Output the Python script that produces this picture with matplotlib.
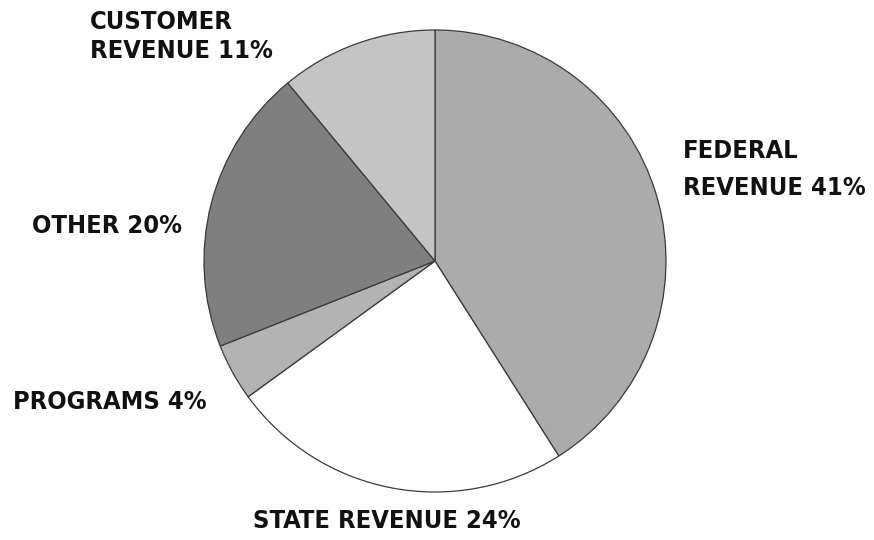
# === IMPORTS ===
import matplotlib
matplotlib.use("Agg")
import matplotlib.pyplot as plt

# === DATA ===
categories = ["FEDERAL REVENUE", "STATE REVENUE", "PROGRAMS", "OTHER", "CUSTOMER REVENUE"]
shares = [41, 24, 4, 20, 11]
slice_colors = ["#ababab", "#ffffff", "#b3b3b3", "#7f7f7f", "#c4c4c4"]

# label lines: text, left x, baseline y (pixels from top-left)
label_lines = [
    ("CUSTOMER", 90, 29),
    ("REVENUE 11%", 90, 58),
    ("FEDERAL", 683, 158),
    ("REVENUE 41%", 683, 195),
    ("OTHER 20%", 32, 233),
    ("PROGRAMS 4%", 13, 409),
    ("STATE REVENUE 24%", 253, 528),
]

# === FIGURE ===
W, H = 874, 540
fig = plt.figure(figsize=(W / 100, H / 100), dpi=100)
fig.patch.set_facecolor("white")

cx, cy, r = 435, 261, 231
ax = fig.add_axes([(cx - r) / W, (H - cy - r) / H, 2 * r / W, 2 * r / H])
ax.pie(shares, colors=slice_colors, startangle=90, counterclock=False,
       wedgeprops=dict(edgecolor="#3a3a3a", linewidth=0.9))
ax.set_xlim(-1.0, 1.0)
ax.set_ylim(-1.0, 1.0)
ax.set_aspect("equal")
ax.axis("off")

for txt, x, y in label_lines:
    fig.text(x / W, 1 - y / H, txt, ha="left", va="baseline", fontsize=18.3,
             fontweight="bold", fontstretch="condensed", family="DejaVu Sans",
             color="#111111")

# === RENDER ===
fig.savefig("out.png", dpi=100)
